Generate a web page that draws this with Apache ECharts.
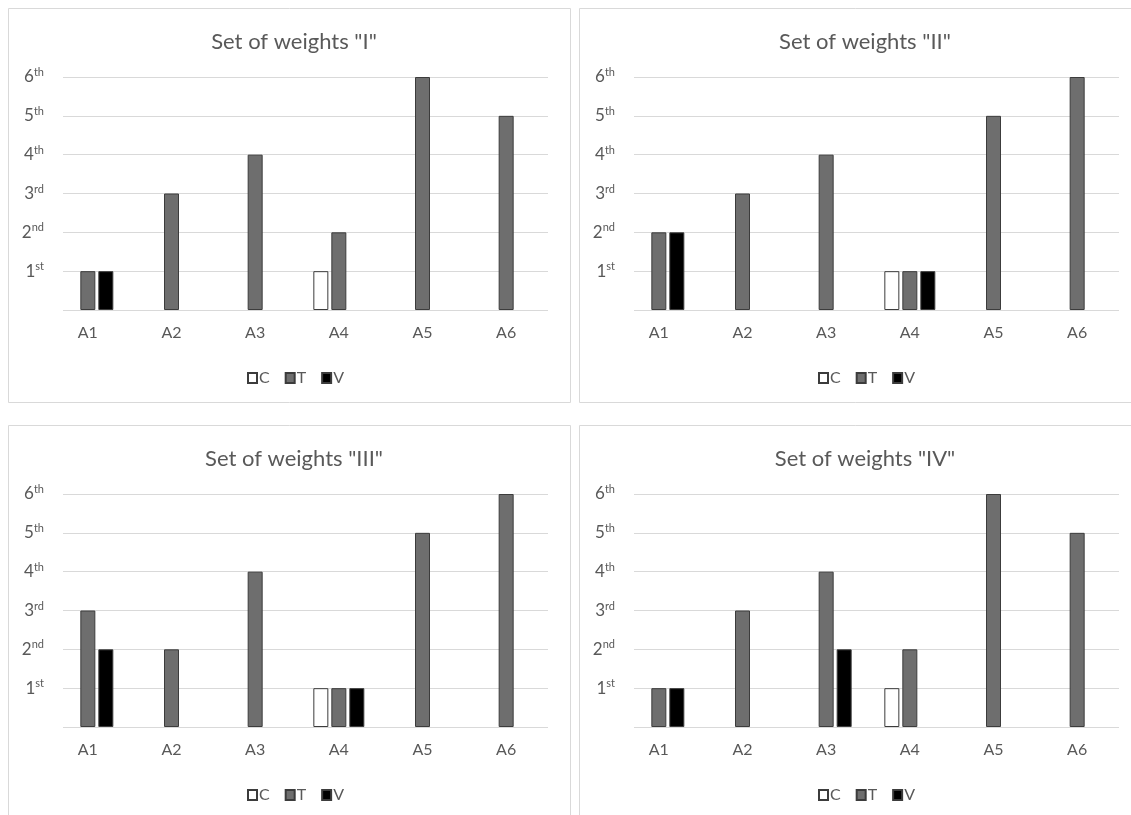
<!DOCTYPE html>
<html>
<head>
<meta charset="utf-8">
<script src="https://cdn.jsdelivr.net/npm/echarts@6/dist/echarts.min.js"></script>
<style>
html,body{margin:0;padding:0;background:#fff;}
#chart{width:1131px;height:815px;}
</style>
</head>
<body>
<div id="chart"></div>
<script>
// ---- data ----
const categories = ['A1', 'A2', 'A3', 'A4', 'A5', 'A6'];
const seriesNames = ['C', 'T', 'V'];
const titles = ['Set of weights "I"', 'Set of weights "II"', 'Set of weights "III"', 'Set of weights "IV"'];
const rankNumbers = ['', '1', '2', '3', '4', '5', '6'];
const rankSuffixes = ['', 'st', 'nd', 'rd', 'th', 'th', 'th'];

const setI_C = [null, null, null, 1, null, null];
const setI_T = [1, 3, 4, 2, 6, 5];
const setI_V = [1, null, null, null, null, null];

const setII_C = [null, null, null, 1, null, null];
const setII_T = [2, 3, 4, 1, 5, 6];
const setII_V = [2, null, null, 1, null, null];

const setIII_C = [null, null, null, 1, null, null];
const setIII_T = [3, 2, 4, 1, 5, 6];
const setIII_V = [2, null, null, 1, null, null];

const setIV_C = [null, null, null, 1, null, null];
const setIV_T = [1, 3, 4, 2, 6, 5];
const setIV_V = [1, null, 2, null, null, null];

const panelData = [
  [setI_C, setI_T, setI_V],
  [setII_C, setII_T, setII_V],
  [setIII_C, setIII_T, setIII_V],
  [setIV_C, setIV_T, setIV_V]
];

// ---- layout / style ----
const offsets = [[0, 0], [571, 0], [0, 417], [571, 417]];
const fills = ['#ffffff', '#6e6e6e', '#000000'];
const border = '#3c3c3c';
const textColor = '#595959';
const font = 'Lato, "Open Sans", sans-serif';

const option = {
  animation: false,
  backgroundColor: '#fff',
  title: [], legend: [], grid: [], xAxis: [], yAxis: [], series: [],
  graphic: []
};

offsets.forEach(([dx, dy], p) => {
  // panel border
  option.graphic.push({
    type: 'rect', silent: true, z: -1,
    shape: { x: 8.5 + dx, y: 8.5 + dy, width: 562, height: 394 },
    style: { fill: 'none', stroke: '#d9d9d9', lineWidth: 1 }
  });
  option.title.push({
    text: titles[p], left: 289 + dx, top: 26 + dy, textAlign: 'center',
    textStyle: { color: textColor, fontSize: 22, fontWeight: 'normal', fontFamily: font }
  });
  option.legend.push({
    data: seriesNames, left: 242 + dx, top: 365 + dy,
    itemWidth: 9, itemHeight: 10, itemGap: 15,
    icon: 'rect',
    textStyle: { color: textColor, fontSize: 16, fontFamily: font, padding: [0, 0, 0, -3] },
    selectedMode: false
  });

  const gBars = option.grid.length;
  option.grid.push({ left: 46 + dx, top: 77 + dy, width: 502, height: 233 });
  const gLines = option.grid.length;
  option.grid.push({ left: 63 + dx, top: 77 + dy, width: 485, height: 233 });

  option.xAxis.push({
    type: 'category', gridIndex: gBars, data: categories,
    axisLine: { show: false }, axisTick: { show: false },
    axisLabel: { color: textColor, fontSize: 16, fontFamily: font, margin: 15 }
  });
  option.xAxis.push({ type: 'value', gridIndex: gLines, min: 0, max: 1, show: false });

  option.yAxis.push({
    type: 'value', gridIndex: gBars, min: 0, max: 6, interval: 1,
    splitLine: { show: false }, axisLine: { show: false }, axisTick: { show: false },
    axisLabel: {
      margin: 2,
      formatter: v => rankNumbers[v] ? '{n|' + rankNumbers[v] + '}{s|' + rankSuffixes[v] + '}' : '',
      rich: {
        n: { color: textColor, fontSize: 17, fontFamily: font, lineHeight: 20 },
        s: { color: textColor, fontSize: 11, fontFamily: font, verticalAlign: 'top', lineHeight: 20, padding: [0, 0, 9, 0] }
      }
    }
  });
  option.yAxis.push({
    type: 'value', gridIndex: gLines, min: 0, max: 6, interval: 1,
    axisLabel: { show: false }, axisLine: { show: false }, axisTick: { show: false },
    splitLine: { show: true, lineStyle: { color: '#d9d9d9', width: 1 } }
  });

  seriesNames.forEach((name, s) => {
    option.series.push({
      type: 'bar', name: name,
      xAxisIndex: gBars, yAxisIndex: gBars,
      data: panelData[p][s],
      barWidth: 15, barGap: '20%',
      itemStyle: { color: fills[s], borderColor: border, borderWidth: 1 }
    });
  });
});

const chart = echarts.init(document.getElementById('chart'), null, { renderer: 'canvas' });
chart.setOption(option);
</script>
</body>
</html>
